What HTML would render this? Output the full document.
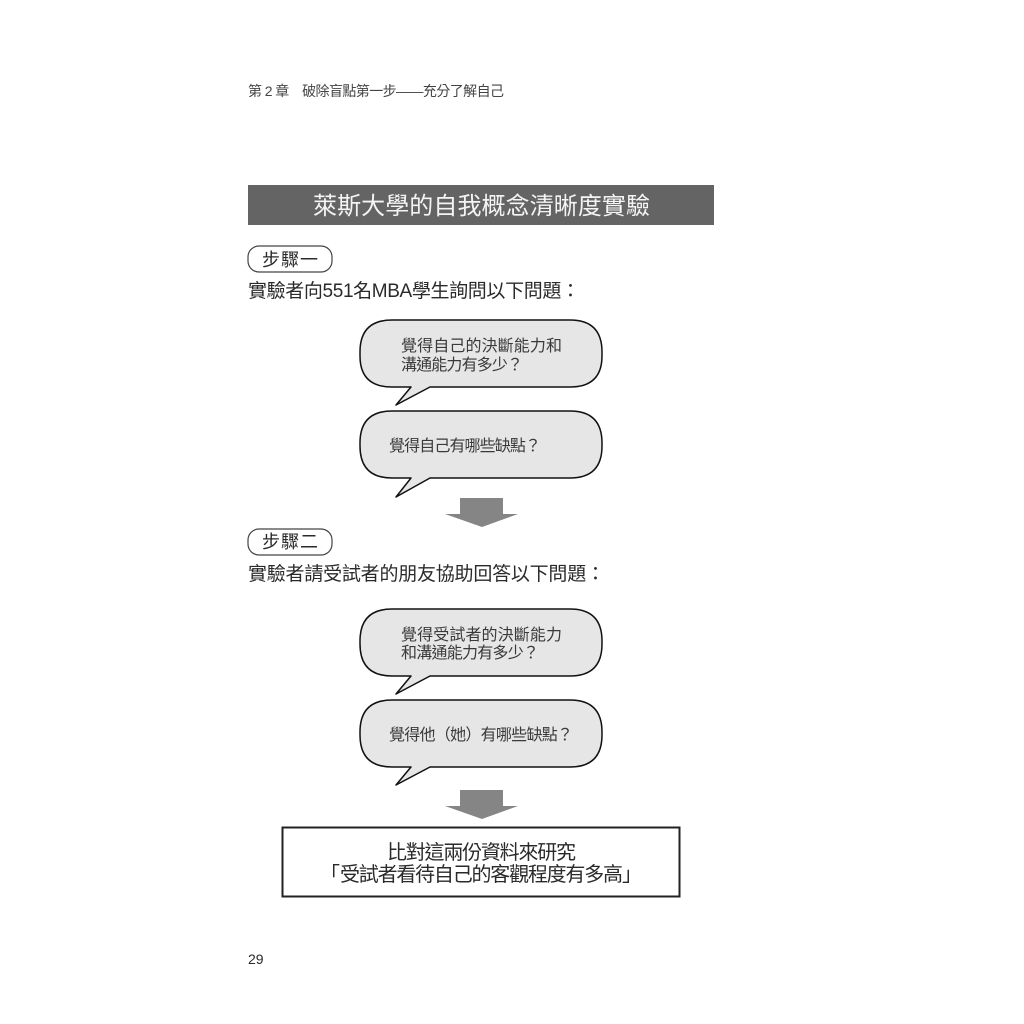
<!DOCTYPE html>
<html><head><meta charset="utf-8"><style>
html,body{margin:0;padding:0;background:#fff;width:1024px;height:1024px;overflow:hidden}
text{font-family:"Liberation Sans","Noto Sans CJK TC",sans-serif;fill:#2a2a2a;text-spacing-trim:space-all;font-kerning:none}
</style></head><body>
<svg width="1024" height="1024" viewBox="0 0 1024 1024" xmlns="http://www.w3.org/2000/svg" style="display:block">
<rect width="1024" height="1024" fill="#fff"/>
<text x="248" y="96" font-size="14" textLength="256" lengthAdjust="spacing" style="fill:#444">第 2 章　破除盲點第一步——充分了解自己</text>
<rect x="248" y="185" width="466" height="40" fill="#646464"/>
<text x="313" y="214" font-size="24" textLength="337" lengthAdjust="spacing" style="fill:#f4f4f4">萊斯大學的自我概念清晰度實驗</text>

<rect x="248" y="246" width="84" height="26" rx="11" fill="#fff" stroke="#444" stroke-width="1.2"/>
<text x="262" y="266" font-size="18" textLength="56">步驟一</text>
<text x="248" y="297" font-size="19" textLength="332">實驗者向551名MBA學生詢問以下問題：</text>

<g fill="#e6e6e6" stroke="#111" stroke-width="1.5" stroke-linejoin="round">
<path d="M392 320H570Q602 320 602 352V356Q602 387 570 387H430L396 405L411 387H392Q360 387 360 356V352Q360 320 392 320Z"/>
<path d="M392 411H570Q602 411 602 443V446Q602 478 570 478H430L396 497L411 478H392Q360 478 360 446V443Q360 411 392 411Z"/>
<path d="M392 609H570Q602 609 602 641V644Q602 676 570 676H430L396 694L411 676H392Q360 676 360 644V641Q360 609 392 609Z"/>
<path d="M392 700H570Q602 700 602 732V735Q602 767 570 767H430L396 785L411 767H392Q360 767 360 735V732Q360 700 392 700Z"/>
</g>
<g font-size="16">
<text x="401" y="351" textLength="161" style="fill:#3a3a3a">覺得自己的決斷能力和</text>
<text x="401" y="370" textLength="122" style="fill:#3a3a3a">溝通能力有多少？</text>
<text x="389" y="451" textLength="152" style="fill:#3a3a3a">覺得自己有哪些缺點？</text>
<text x="401" y="640" textLength="161" style="fill:#3a3a3a">覺得受試者的決斷能力</text>
<text x="401" y="658" textLength="138" style="fill:#3a3a3a">和溝通能力有多少？</text>
<text x="389" y="740" textLength="184" style="fill:#3a3a3a">覺得他（她）有哪些缺點？</text>
</g>

<polygon points="460,498 503,498 503,514 518,514 482,527 445,514 460,514" fill="#858585"/>
<rect x="248" y="529" width="84" height="26" rx="11" fill="#fff" stroke="#444" stroke-width="1.2"/>
<text x="262" y="548" font-size="18" textLength="56">步驟二</text>
<text x="248" y="580" font-size="19" textLength="357">實驗者請受試者的朋友協助回答以下問題：</text>

<polygon points="460,790 503,790 503,806 518,806 482,819 445,806 460,806" fill="#858585"/>
<rect x="282.5" y="827.5" width="397" height="69" fill="#fff" stroke="#222" stroke-width="2"/>
<text x="387" y="859" font-size="20" textLength="189">比對這兩份資料來研究</text>
<text x="320" y="881" font-size="20">「</text>
<text x="340" y="881" font-size="20" textLength="283">受試者看待自己的客觀程度有多高</text>
<text x="622" y="881" font-size="20">」</text>
<text x="248" y="964" font-size="14">29</text>
</svg>
</body></html>
